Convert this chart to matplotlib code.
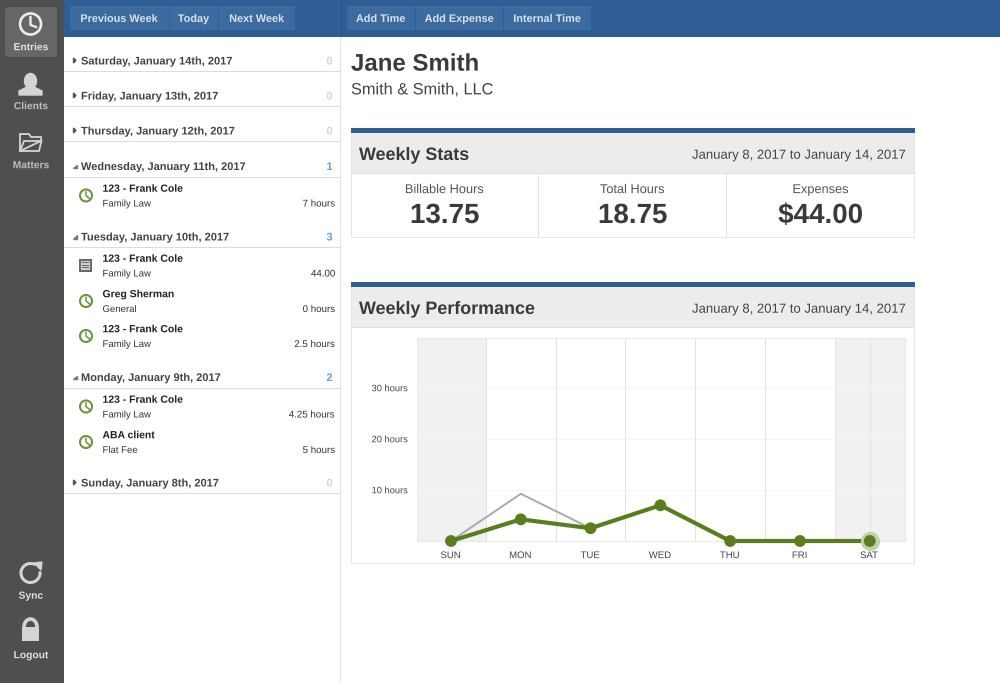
import matplotlib
matplotlib.use("Agg")
import matplotlib.pyplot as plt
import matplotlib.patheffects as pe
from matplotlib.patches import Rectangle, FancyBboxPatch, Circle, Ellipse, Polygon, Arc

plt.rcParams['font.family'] = ['Liberation Sans', 'DejaVu Sans']
plt.rcParams['text.hinting'] = 'no_hinting'
plt.rcParams['text.hinting_factor'] = 1
plt.rcParams['path.effects'] = [pe.Normal()]

# ---- data ----
days = ["SUN", "MON", "TUE", "WED", "THU", "FRI", "SAT"]
billable_hours = [0, 4.25, 2.5, 7, 0, 0, 0]
total_hours = [0, 9.25, 2.5, 7, 0, 0, 0]
y_ticks = [10, 20, 30]
y_tick_labels = ["10 hours", "20 hours", "30 hours"]

stat_labels = ["Billable Hours", "Total Hours", "Expenses"]
stat_values = ["13.75", "18.75", "$44.00"]

nav_left = ["Previous Week", "Today", "Next Week"]
nav_right = ["Add Time", "Add Expense", "Internal Time"]

W, H = 1000, 683
GREEN = "#5c7d1e"
BLUE = "#2f5d96"
DARK = "#3c3c3c"

fig = plt.figure(figsize=(10, 6.83), dpi=100, facecolor="white")
ui = fig.add_axes([0, 0, 1, 1])
ui.set_xlim(0, W)
ui.set_ylim(H, 0)
ui.axis("off")


def rect(x, y, w, h, c, z=1, **kw):
    ui.add_patch(Rectangle((x, y), w, h, facecolor=c, edgecolor="none", zorder=z, **kw))


def txt(x, y, s, size, c=DARK, bold=False, ha="left", z=5):
    ui.text(x, y + 0.5 * size, s, fontsize=size, color=c, ha=ha, va="baseline",
            fontweight="bold" if bold else "normal", zorder=z)


# ---- top bar and sidebar ----
rect(64, 0, 936, 37, BLUE)
rect(0, 0, 64, H, "#4f4f4f", z=2)
ui.add_patch(FancyBboxPatch((5, 7), 52, 50, boxstyle="round,pad=0,rounding_size=3",
                            facecolor="#666666", edgecolor="none", zorder=3))
rect(340, 37, 1, H - 37, "#e2e2e2")

# toolbar buttons
for x0, w, s in [(70, 99, nav_left[0]), (170, 48, nav_left[1]), (219, 76, nav_left[2]),
                 (347, 68, nav_right[0]), (416, 87, nav_right[1]), (504, 87, nav_right[2])]:
    rect(x0, 6, w, 24, "#3d6a9f", z=3)
    txt(x0 + w / 2, 18, s, 7.85, "#d7e2ee", True, "center")
rect(341, 0, 1, 37, "#27507f", z=3)

# ---- sidebar icons ----
ICON = "#d4d4d4"
ui.add_patch(Circle((30.5, 24), 10.5, fill=False, ec="#ececec", lw=1.9, zorder=4))
ui.plot([30.5, 30.5, 36], [17, 25, 27], color="#ececec", lw=1.7, zorder=4)
txt(30.5, 46.5, "Entries", 7.4, "#e2e2e2", True, "center")
ui.add_patch(Ellipse((30.5, 81), 12, 15, color=ICON, zorder=4))
ui.add_patch(Polygon([(19, 95), (19, 91), (26, 87.5), (35, 87.5), (42, 91), (42, 95)], color=ICON, zorder=4))
txt(30.5, 105.5, "Clients", 7.4, "#bdbdbd", True, "center")
ui.add_patch(Polygon([(20, 151), (20, 134), (29, 134), (31, 137), (41, 137), (41, 141)],
                     fill=False, ec=ICON, lw=1.3, zorder=4))
ui.add_patch(Polygon([(20, 151), (24, 141), (41.5, 141), (39, 151)], fill=False, ec=ICON, lw=1.3, zorder=4))
txt(30.5, 164.5, "Matters", 7.4, "#bdbdbd", True, "center")
ui.add_patch(Arc((30.5, 573), 19, 19, angle=0, theta1=-10, theta2=300, ec=ICON, lw=2.2, zorder=4))
ui.add_patch(Polygon([(34, 563), (42, 562), (41, 570)], color=ICON, zorder=4))
txt(30.5, 595, "Sync", 7.4, "#dbe3ea", True, "center")
ui.add_patch(Arc((30.5, 627), 13, 16, theta1=180, theta2=360, ec=ICON, lw=2.6, zorder=4))
rect(22, 627, 17, 14, ICON, z=4)
txt(30.5, 654.5, "Logout", 7.4, "#dbe3ea", True, "center")


# ---- left list ----
def header(y, s, n, open_):
    c_n = "#6b9fd0" if n else "#d4d4d4"
    if open_:
        ui.add_patch(Polygon([(73, y + 2), (76.5, y + 2), (76.5, y - 1.5)], color="#777777", zorder=4))
    else:
        ui.add_patch(Polygon([(73.5, y - 2.5), (76, y), (73.5, y + 2.5)], color="#555555", zorder=4))
    txt(81, y, s, 7.95, "#444444", True)
    txt(329.5, y, str(n), 8, c_n, True, "center")
    rect(64, y + 10.5, 276, 1, "#dcdcdc")


for y, s, n, o in [(60.5, "Saturday, January 14th, 2017", 0, False),
                   (95.5, "Friday, January 13th, 2017", 0, False),
                   (130.5, "Thursday, January 12th, 2017", 0, False),
                   (166, "Wednesday, January 11th, 2017", 1, True),
                   (236.5, "Tuesday, January 10th, 2017", 3, True),
                   (377, "Monday, January 9th, 2017", 2, True),
                   (482.5, "Sunday, January 8th, 2017", 0, False)]:
    header(y, s, n, o)


def entry(y, title, sub, amount, icon="clock"):
    txt(102.5, y, title, 7.5, "#222222", True)
    txt(102.5, y + 15, sub, 6.9, "#333333")
    txt(336, y + 15, amount, 7.0, "#333333", ha="right")
    cy = y + 7.5
    if icon == "clock":
        ui.add_patch(Circle((86, cy), 6, fill=False, ec="#6f9440", lw=1.5, zorder=4))
        ui.plot([86, 86, 89.5], [cy - 3.5, cy, cy + 3], color="#6f9440", lw=1.1, zorder=4)
    else:
        rect(79, cy - 7, 13, 13.5, "#6a6a6a", z=4)
        rect(81, cy - 5, 9, 9.5, "#cfcfcf", z=4)
        for k in (-3.5, -1, 1.5):
            rect(82, cy + k, 7, 1, "#6a6a6a", z=5)


entry(188, "123 - Frank Cole", "Family Law", "7 hours")
entry(258, "123 - Frank Cole", "Family Law", "44.00", "receipt")
entry(293.5, "Greg Sherman", "General", "0 hours")
entry(328.5, "123 - Frank Cole", "Family Law", "2.5 hours")
entry(399, "123 - Frank Cole", "Family Law", "4.25 hours")
entry(434.5, "ABA client", "Flat Fee", "5 hours")

# ---- right panel ----
txt(351, 62, "Jane Smith", 17.3, "#3a3a3a", True)
txt(351, 88.5, "Smith & Smith, LLC", 11.75, "#444444")


def panel(top, title, bottom):
    rect(351, top, 564, 5, BLUE, z=2)
    rect(351, top + 5, 564, 41, "#ececec", z=2)
    rect(351, top + 5, 1, bottom - top - 5, "#e6e6e6", z=3)
    rect(914, top + 5, 1, bottom - top - 5, "#e6e6e6", z=3)
    rect(351, bottom - 1, 564, 1, "#e6e6e6", z=3)
    rect(351, top + 45, 564, 1, "#e0e0e0", z=3)
    txt(359, top + 25.5, title, 12.9, "#3a3a3a", True)
    txt(692, top + 26, "January 8, 2017 to January 14, 2017", 9.45, "#444444")


panel(128, "Weekly Stats", 238)
panel(282, "Weekly Performance", 564)
for x in (538, 726):
    rect(x, 174, 1, 64, "#e3e3e3", z=3)
for cx, lab, val in zip((445, 633, 821), stat_labels, stat_values):
    txt(cx, 188.5, lab, 9.2, "#555555", ha="center")
    txt(cx, 213, val, 20, "#3a3a3a", True, "center")

# ---- chart ----
L, R, T, B = 417, 905, 338, 541
ax = fig.add_axes([L / W, 1 - B / H, (R - L) / W, (B - T) / H], zorder=5)
ax.patch.set_alpha(0)
xs = list(range(len(days)))
ax.set_xlim(-0.487, 6.505)
ax.set_ylim(0, 39.8)
ax.axvspan(-0.487, 0.5, color="#f1f1f1", lw=0, zorder=0)
ax.axvspan(5.51, 6.505, color="#f1f1f1", lw=0, zorder=0)
for v in (0.5, 1.5, 2.5, 3.5, 4.5, 5.5, 6.0):
    ax.axvline(v, color="#e2e2e2", lw=0.72, zorder=1)
for v in y_ticks:
    ax.axhline(v, color="#f4f4f4", lw=0.72, zorder=1)
for s in ax.spines.values():
    s.set_color("#e8e8e8")
    s.set_linewidth(0.72)
ax.set_xticks(xs, days)
ax.set_yticks(y_ticks, y_tick_labels)
ax.tick_params(length=0, labelcolor="#444444")
ax.tick_params(axis="x", pad=12.3, labelsize=6.9)
ax.tick_params(axis="y", pad=7.5, labelsize=6.7)
for lab in ax.get_xticklabels():
    lab.set_verticalalignment("baseline")
ax.plot(xs, total_hours, color="#aaaaaa", lw=1.4, zorder=3, clip_on=False)
ax.plot(xs, billable_hours, color=GREEN, lw=3, zorder=4, clip_on=False)
ax.scatter(xs[-1:], billable_hours[-1:], s=190, color="#c3d0a8", lw=0, zorder=4, clip_on=False)
ax.plot(xs, billable_hours, "o", color=GREEN, ms=8.5, mew=0, zorder=5, clip_on=False)

fig.savefig("out.png", dpi=100)
